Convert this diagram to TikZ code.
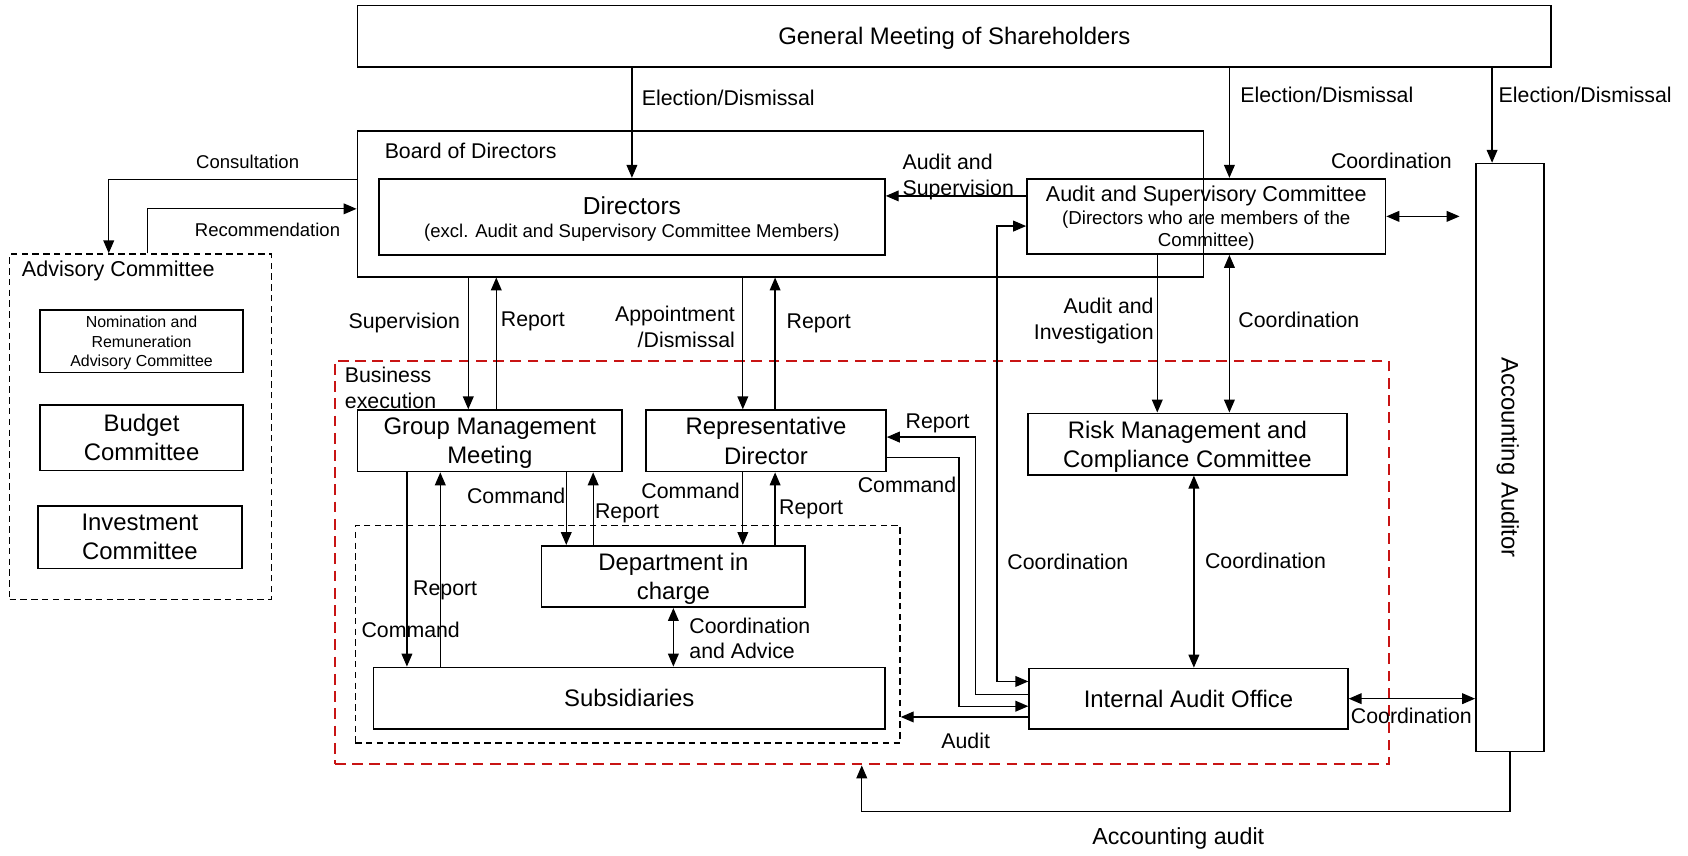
\documentclass[tikz,border=0pt]{standalone}
\usepackage{fontspec}
\setmainfont{Liberation Sans}
\usetikzlibrary{arrows.meta}
\definecolor{bizred}{RGB}{200,20,20}

\tikzstyle{block} = [rectangle, draw=black, line width=0.8pt, inner sep=0pt, align=center, text depth=0pt, font=\fontsize{11.1}{13.5}\selectfont]
\tikzstyle{dashbox} = [rectangle, draw=black, line width=0.7pt, dash pattern=on 3pt off 2pt, inner sep=0pt]
\tikzstyle{redbox} = [rectangle, draw=bizred, line width=1pt, dash pattern=on 5pt off 3pt, inner sep=0pt]
\tikzstyle{lbl} = [inner sep=0pt, font=\fontsize{9.9}{12}\selectfont]
\tikzstyle{smalltext} = [inner sep=0pt, font=\fontsize{8.6}{10.5}\selectfont]
\tikzstyle{arrow} = [line width=0.6pt, ->, >={Triangle[length=6pt,width=5pt]}]
\tikzstyle{darrow} = [line width=0.6pt, <->, >={Triangle[length=6pt,width=5pt]}]

\begin{document}
\begin{tikzpicture}[x=0.5pt, y=-0.5pt]
    \useasboundingbox (0,0) rectangle (1568,795);
    \node (gm) [block, minimum width=554.5pt, minimum height=28.5pt] at (886.5,33.5) {General Meeting of Shareholders};
    \node (bod) [block, minimum width=393pt, minimum height=67.5pt] at (725,189.5) {};
    \node (bodlbl) [lbl, anchor=west] at (357,140) {Board of Directors};
    \node (dirs) [block, minimum width=235pt, minimum height=35.5pt, font=\fontsize{11.4}{10.5}\selectfont] at (587,201.5) {Directors\\{\fontsize{8.6}{10}\selectfont(excl. Audit and Supervisory Committee Members)}};
    \node (asc) [block, minimum width=166.5pt, minimum height=35pt, font=\fontsize{10}{10.5}\selectfont] at (1120.5,201) {Audit and Supervisory Committee\\{\fontsize{8.7}{10}\selectfont(Directors who are members of the}\\{\fontsize{8.7}{10}\selectfont Committee)}};
    \node (aa) [block, minimum width=31.5pt, minimum height=273pt] at (1402.5,425) {};
    \node (aalbl) [rotate=-90, inner sep=0pt, font=\fontsize{11.1}{12}\selectfont] at ([xshift=-1pt]aa.center) {Accounting Auditor};
    \node (adv) [dashbox, minimum width=121.5pt, minimum height=160.5pt] at (130.5,396.5) {};
    \node (advlbl) [lbl, anchor=west, font=\fontsize{10}{12}\selectfont] at (20,252) {Advisory Committee};
    \node (nom) [block, minimum width=94.5pt, minimum height=29pt, font=\fontsize{7.4}{9}\selectfont] at (131.5,317) {Nomination and\\Remuneration\\Advisory Committee};
    \node (bud) [block, minimum width=94.5pt, minimum height=30.5pt] at (131.5,406.5) {Budget\\Committee};
    \node (inv) [block, minimum width=95pt, minimum height=29pt] at (130,499) {Investment\\Committee};
    \node (biz) [redbox, minimum width=489.5pt, minimum height=187.5pt] at (800.5,522.5) {};
    \node (bizlbl) [lbl, anchor=west, align=left] at (320,360) {Business\\execution};
    \node (gmm) [block, minimum width=123pt, minimum height=28.5pt] at (455,409.5) {Group Management\\Meeting};
    \node (rep) [block, minimum width=111.5pt, minimum height=28.5pt] at (711.5,409.5) {Representative\\Director};
    \node (rmc) [block, minimum width=148pt, minimum height=28.5pt] at (1103,412.5) {Risk Management and\\Compliance Committee};
    \node (grp) [dashbox, minimum width=253pt, minimum height=101pt] at (583,589) {};
    \node (dept) [block, minimum width=122.5pt, minimum height=28.5pt] at (625.5,535.5) {Department in\\charge};
    \node (subs) [block, minimum width=237.5pt, minimum height=28.5pt] at (584.5,648.5) {Subsidiaries};
    \node (iao) [block, minimum width=148pt, minimum height=28pt] at (1104,649) {Internal Audit Office};

    \coordinate (gm2asc) at ([xshift=10.75pt]asc.north);
    \coordinate (gm2aa) at ([xshift=-8.25pt]aa.north);
    \coordinate (asc2dirs) at ([yshift=9.5pt]asc.west);
    \coordinate (asc2iao) at ([yshift=-4.5pt]asc.west);
    \coordinate (iao2asc) at ([yshift=8pt]iao.west);
    \coordinate (ascfree) at ([xshift=34pt]asc.east);
    \coordinate (asc2rmc) at ([xshift=-14pt]rmc.north);
    \coordinate (ascrmc) at ([xshift=19.5pt]rmc.north);
    \coordinate (bod2adv) at ([yshift=11.25pt]bod.west);
    \coordinate (advin) at ([xshift=-14.75pt]adv.north);
    \coordinate (advout) at ([xshift=3.25pt]adv.north);
    \coordinate (bodin) at ([yshift=-2.25pt]bod.west);
    \coordinate (bod2gmm) at ([xshift=-10pt]gmm.north);
    \coordinate (gmm2bod) at ([xshift=3pt]gmm.north);
    \coordinate (bod2rep) at ([xshift=-10.75pt]rep.north);
    \coordinate (rep2bod) at ([xshift=4.25pt]rep.north);
    \coordinate (gmm2dept) at ([xshift=-49.75pt]dept.north);
    \coordinate (dept2gmm) at ([xshift=-37.25pt]dept.north);
    \coordinate (gmm2subs) at ([xshift=-103.25pt]subs.north);
    \coordinate (subs2gmm) at ([xshift=-87.75pt]subs.north);
    \coordinate (rep2dept) at ([xshift=32.25pt]dept.north);
    \coordinate (dept2rep) at ([xshift=47.25pt]dept.north);
    \coordinate (rmciao) at ([xshift=3pt]rmc.south);
    \coordinate (iao2rep) at ([yshift=2pt]iao.west);
    \coordinate (repin) at ([yshift=1.75pt]rep.east);
    \coordinate (rep2iao) at ([yshift=-7.75pt]rep.east);
    \coordinate (iaoin) at ([yshift=-3.5pt]iao.west);
    \coordinate (iao2grp) at ([yshift=-8.5pt]iao.west);

    \draw [arrow] (gm.south -| dirs.north) -- (dirs.north);
    \draw [arrow] (gm.south -| gm2asc) -- (gm2asc);
    \draw [arrow] (gm.south -| gm2aa) -- (gm2aa);
    \draw [arrow] (asc2dirs) -- (asc2dirs -| dirs.east);
    \draw [darrow] (iao2asc) -- ++(-29,0) |- (asc2iao);
    \draw [darrow] (asc.east) -- (ascfree);
    \draw [arrow] (asc.south -| asc2rmc) -- (asc2rmc);
    \draw [darrow] (asc.south -| ascrmc) -- (ascrmc);
    \draw [arrow] (bod2adv) -| (advin);
    \draw [arrow] (advout) |- (bodin);
    \draw [arrow] (bod.south -| bod2gmm) -- (bod2gmm);
    \draw [arrow] (gmm2bod) -- (gmm2bod |- bod.south);
    \draw [arrow] (bod.south -| bod2rep) -- (bod2rep);
    \draw [arrow] (rep2bod) -- (rep2bod |- bod.south);
    \draw [arrow] (gmm.south -| gmm2dept) -- (gmm2dept);
    \draw [arrow] (dept2gmm) -- (dept2gmm |- gmm.south);
    \draw [arrow] (gmm.south -| gmm2subs) -- (gmm2subs);
    \draw [arrow] (subs2gmm) -- (subs2gmm |- gmm.south);
    \draw [arrow] (rep.south -| rep2dept) -- (rep2dept);
    \draw [arrow] (dept2rep) -- (dept2rep |- rep.south);
    \draw [darrow] (dept.south) -- (dept.south |- subs.north);
    \draw [darrow] (rmciao) -- (rmciao |- iao.north);
    \draw [arrow] (iao2rep) -- ++(-49,0) |- (repin);
    \draw [arrow] (rep2iao) -- ++(67,0) |- (iaoin);
    \draw [arrow] (iao2grp) -- (iao2grp -| grp.east);
    \draw [darrow] (iao.east) -- (iao.east -| aa.west);
    \draw [arrow] (aa.south) -- ++(0,55) -| (biz.south);

    \node (l1) [lbl] at (676.5,91) {Election/Dismissal};
    \node (l2) [lbl] at (1232.5,88) {Election/Dismissal};
    \node (l3) [lbl] at (1472.5,88) {Election/Dismissal};
    \node (l4) [lbl, anchor=west, align=left] at (838,164.5) {Audit and\\Supervision};
    \node (l5) [lbl] at (1292.5,149) {Coordination};
    \node (l6) [lbl, anchor=east, align=right] at (1072,298) {Audit and\\Investigation};
    \node (l7) [lbl] at (1206.5,297) {Coordination};
    \node (l8) [smalltext] at (230,150) {Consultation};
    \node (l9) [smalltext] at (248.5,214) {Recommendation};
    \node (l10) [lbl] at (375.5,300) {Supervision};
    \node (l11) [lbl] at (495,299) {Report};
    \node (l12) [lbl, anchor=east, align=right] at (683,304) {Appointment\\/Dismissal};
    \node (l13) [lbl] at (760.5,300) {Report};
    \node (l14) [lbl] at (479.5,461) {Command};
    \node (l15) [lbl] at (582.5,477) {Report};
    \node (l16) [lbl] at (413.5,548) {Report};
    \node (l17) [lbl] at (381.5,585) {Command};
    \node (l18) [lbl] at (641.5,456) {Command};
    \node (l19) [lbl] at (753.5,473) {Report};
    \node (l20) [lbl, anchor=west, align=left] at (640,593) {Coordination\\and Advice};
    \node (l21) [lbl] at (871,393) {Report};
    \node (l22) [lbl] at (842.5,450) {Command};
    \node (l23) [lbl] at (992,522) {Coordination};
    \node (l24) [lbl] at (1175.5,521) {Coordination};
    \node (l25) [lbl] at (897,688) {Audit};
    \node (l26) [lbl] at (1311,665) {Coordination};
    \node (l27) [lbl, font=\fontsize{10.8}{12}\selectfont] at (1094.5,779) {Accounting audit};
\end{tikzpicture}
\end{document}
